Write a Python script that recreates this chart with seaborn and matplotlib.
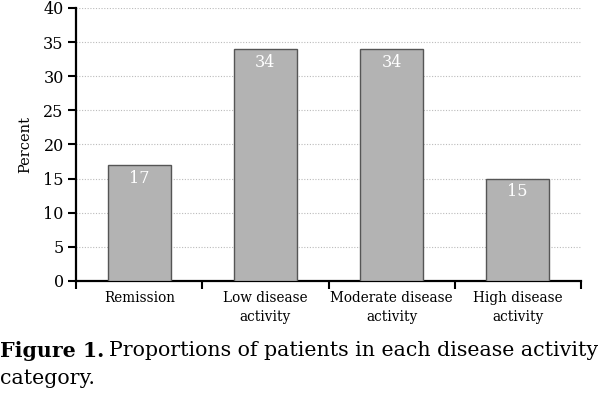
import matplotlib
matplotlib.use("Agg")
import matplotlib.pyplot as plt
import seaborn as sns
import pandas as pd

categories = ["Remission", "Low disease\nactivity", "Moderate disease\nactivity", "High disease\nactivity"]
percent = [17, 34, 34, 15]
yticks = [0, 5, 10, 15, 20, 25, 30, 35, 40]

sns.set_style("white", {"text.color": "black", "axes.labelcolor": "black",
                        "xtick.color": "black", "ytick.color": "black"})
plt.rcParams['font.family'] = ['DejaVu Serif']

df = pd.DataFrame({"category": categories, "percent": percent})

fig = plt.figure(figsize=(6, 3.94), dpi=100)
ax = fig.add_axes([0.127, 0.287, 0.841, 0.693])

sns.barplot(data=df, x="category", y="percent", ax=ax, width=0.5,
            color="#b3b3b3", edgecolor="#555555", linewidth=1.0, saturation=1, zorder=3)

for i, v in enumerate(percent):
    ax.text(i, v - 0.7, str(v), ha="center", va="top", color="white", fontsize=11.5, zorder=4)

ax.set_ylim(0, 40)
ax.set_xlim(-0.5, len(categories) - 0.5)
ax.set_yticks(yticks)
ax.set_yticklabels([str(t) for t in yticks], fontsize=11.5)
ax.yaxis.grid(True, linestyle=(0, (1, 1.5)), color="#bbbbbb", linewidth=0.8, zorder=0)
ax.xaxis.grid(False)

# boundary ticks on x, labels centred under bars
ax.set_xticks([i - 0.5 for i in range(len(categories) + 1)])
ax.set_xticklabels([""] * (len(categories) + 1))
ax.set_xticks(range(len(categories)), minor=True)
ax.set_xticklabels(categories, minor=True, fontsize=9.8, linespacing=1.45)
ax.tick_params(axis="x", which="major", direction="out", length=6, width=1.5, color="black", bottom=True)
ax.tick_params(axis="x", which="minor", length=0, pad=7)
ax.tick_params(axis="y", direction="out", length=6, width=1.5, color="black", left=True, pad=3)

sns.despine(ax=ax)
for s in ["left", "bottom"]:
    ax.spines[s].set_color("black")
    ax.spines[s].set_linewidth(1.6)

ax.set_xlabel("")
ax.set_ylabel("Percent", fontsize=10.5, labelpad=8)

# caption
renderer = fig.canvas.get_renderer()
t1 = fig.text(0.0, 1 - 351 / 394, "Figure 1.", fontsize=14.8, fontweight="bold", va="center", ha="left")
bb = t1.get_window_extent(renderer=renderer)
fig.text(bb.x1 / fig.bbox.width + 0.008, 1 - 351 / 394, "Proportions of patients in each disease activity",
         fontsize=14.8, va="center", ha="left")
fig.text(0.0, 1 - 378 / 394, "category.", fontsize=14.8, va="center", ha="left")

fig.savefig("out.png", dpi=100)
